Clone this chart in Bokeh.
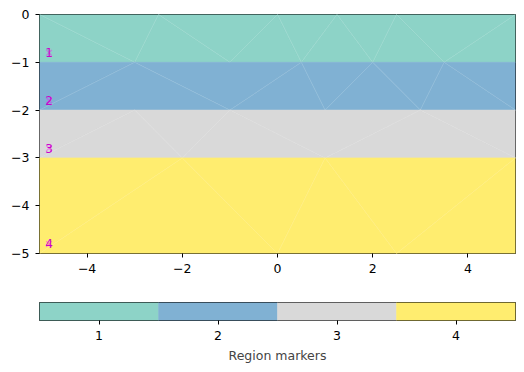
from bokeh.plotting import figure
from bokeh.layouts import column
from bokeh.models import Range1d, FixedTicker, ColumnDataSource
from bokeh.core.properties import value
from bokeh.embed import file_html
from bokeh.resources import INLINE

# ---- data ----
node_x = [-5, -2.5, 0, 1.25, 2.5, 5,
          -5, -3, -1, 0.5, 2, 3.5, 5,
          -5, -3, -1, 1, 3, 5,
          -5, -2, 1, 5,
          -5, 0, 2.5, 5]
node_y = [0, 0, 0, 0, 0, 0,
          -1, -1, -1, -1, -1, -1, -1,
          -2, -2, -2, -2, -2, -2,
          -3, -3, -3, -3,
          -5, -5, -5, -5]
cells = [(0, 7, 6), (0, 1, 7), (1, 8, 7), (1, 2, 8), (2, 9, 8), (2, 3, 9),
         (3, 10, 9), (3, 4, 10), (4, 11, 10), (4, 5, 11), (5, 12, 11),
         (6, 7, 13), (13, 7, 15), (7, 9, 15), (9, 16, 15), (9, 10, 16),
         (10, 17, 16), (10, 11, 17), (11, 18, 17), (11, 12, 18),
         (13, 14, 19), (14, 20, 19), (14, 15, 20), (15, 21, 20), (15, 17, 21),
         (17, 22, 21), (17, 18, 22),
         (19, 20, 23), (20, 24, 23), (20, 21, 24), (21, 25, 24), (21, 22, 25),
         (22, 26, 25)]
cell_marker = [1] * 11 + [2] * 9 + [3] * 7 + [4] * 6
region_markers = [1, 2, 3, 4]
region_colors = ["#8dd3c7", "#80b1d3", "#d9d9d9", "#ffed6f"]
marker_x = [-4.8, -4.8, -4.8, -4.8]
marker_y = [-0.8, -1.8, -2.8, -4.8]
marker_text = ["1", "2", "3", "4"]
x_ticks = [-4, -2, 0, 2, 4]
x_tick_labels = ["\u22124", "\u22122", "0", "2", "4"]
y_ticks = [0, -1, -2, -3, -4, -5]
y_tick_labels = ["0", "\u22121", "\u22122", "\u22123", "\u22124", "\u22125"]
cbar_label = "Region markers"

FONT = "DejaVu Sans"
FS = "12.5px"

def style_axes(fig):
    for ax in fig.axis:
        ax.major_label_text_font = FONT
        ax.major_label_text_font_size = FS
        ax.major_label_text_color = "black"
        ax.axis_label_text_font = FONT
        ax.axis_label_text_font_size = FS
        ax.axis_label_text_font_style = "normal"
        ax.axis_line_color = None
        ax.major_tick_in = 0
        ax.major_tick_out = 4
        ax.major_tick_line_color = "black"
        ax.minor_tick_line_color = None
    fig.xgrid.grid_line_color = None
    fig.ygrid.grid_line_color = None
    fig.outline_line_color = "black"
    fig.outline_line_alpha = 1
    fig.outline_line_width = 1

# ---- main mesh plot ----
p = figure(width=524, height=288, output_backend="svg", toolbar_location=None,
           x_range=Range1d(-5, 5), y_range=Range1d(-5, 0),
           min_border_left=39, min_border_right=9, min_border_top=14, min_border_bottom=35)

cmap = dict(zip(region_markers, region_colors))
xs = [[node_x[i] for i in c] for c in cells]
ys = [[node_y[i] for i in c] for c in cells]
cols = [cmap[m] for m in cell_marker]
p.patches(xs=xs, ys=ys, fill_color=cols, line_color=cols, line_width=0.6)

# interior mesh edges (skip outer/region horizontal boundaries)
edges = set()
for c in cells:
    for a, b in ((c[0], c[1]), (c[1], c[2]), (c[2], c[0])):
        if node_y[a] == node_y[b]:
            continue
        if node_x[a] == node_x[b] and abs(node_x[a]) == 5:
            continue
        edges.add(tuple(sorted((a, b))))
edges = sorted(edges)
p.multi_line(xs=[[node_x[a], node_x[b]] for a, b in edges],
             ys=[[node_y[a], node_y[b]] for a, b in edges],
             line_color="white", line_alpha=0.2, line_width=0.6)

msrc = ColumnDataSource(dict(x=marker_x, y=marker_y, t=marker_text))
p.scatter("x", "y", source=msrc, marker="x", size=8, line_color="#ff00ff",
          line_alpha=0.4, line_width=1.2)
p.text("x", "y", text="t", source=msrc, text_font=value(FONT), text_font_size="12px",
       text_color="#cc00cc", text_align="center", text_baseline="middle")

p.xaxis.ticker = FixedTicker(ticks=x_ticks)
p.xaxis.major_label_overrides = dict(zip(x_ticks, x_tick_labels))
p.yaxis.ticker = FixedTicker(ticks=y_ticks)
p.yaxis.major_label_overrides = dict(zip(y_ticks, y_tick_labels))
style_axes(p)
p.xaxis.major_label_standoff = 6
p.yaxis.major_label_standoff = 6

# ---- colorbar ----
cb = figure(width=524, height=78, output_backend="svg", toolbar_location=None,
            x_range=Range1d(0.5, 4.5), y_range=Range1d(0, 1),
            min_border_left=39, min_border_right=9, min_border_top=14, min_border_bottom=46)
cb.quad(left=[m - 0.5 for m in region_markers], right=[m + 0.5 for m in region_markers],
        bottom=0, top=1, fill_color=region_colors, line_color=region_colors, line_width=0.5)
cb.xaxis.ticker = FixedTicker(ticks=region_markers)
cb.xaxis.axis_label = cbar_label
cb.yaxis.visible = False
style_axes(cb)
cb.xaxis.major_label_standoff = 6
cb.xaxis.axis_label_standoff = 5

layout = column(p, cb, spacing=0)
open("out.html", "w").write(file_html(layout, INLINE))
